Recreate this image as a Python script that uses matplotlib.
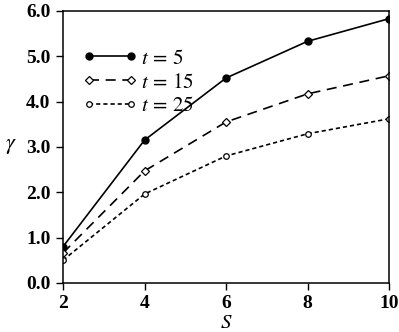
import numpy as np
import matplotlib.pyplot as plt

s = [2, 4, 6, 8, 10]
g_t5 = [0.80, 3.15, 4.52, 5.33, 5.83]
g_t15 = [0.66, 2.47, 3.55, 4.17, 4.57]
g_t25 = [0.50, 1.96, 2.80, 3.29, 3.62]

plt.rcParams['font.family'] = ['Liberation Serif', 'DejaVu Serif']
plt.rcParams['mathtext.fontset'] = 'stix'

fig = plt.figure(figsize=(3.99, 3.32), dpi=100)
ax = fig.add_axes([0.158, 0.148, 0.817, 0.819])

ax.plot(s, g_t5, '-', color='black', lw=1.2, marker='o', ms=5,
        mfc='black', label=r'$t\,=\,5$')
ax.plot(s, g_t15, '--', color='black', lw=1.2, dashes=(6, 4), marker='D', ms=4,
        mfc='white', mew=0.9, label=r'$t\,=\,15$')
ax.plot(s, g_t25, ':', color='black', lw=1.2, dashes=(2.5, 1.8), marker='o', ms=4,
        mfc='white', mew=0.9, label=r'$t\,=\,25$')

ax.set_xlim(2, 10)
ax.set_ylim(0, 6)
ax.set_xticks([2, 4, 6, 8, 10])
ax.set_yticks(np.arange(0, 6.1, 1.0))
ax.set_yticklabels(['%.1f' % v for v in np.arange(0, 6.1, 1.0)])
ax.tick_params(direction='out', length=5, width=1, top=False, right=False,
               labelsize=14, pad=4)
for lab in ax.get_xticklabels() + ax.get_yticklabels():
    lab.set_fontweight('bold')
for sp in ax.spines.values():
    sp.set_linewidth(1.1)

ax.set_xlabel(r'$S$', fontsize=15, labelpad=1)
fig.text(0.028, 0.56, r'$\gamma$', fontsize=16, ha='center', va='center')

leg = ax.legend(loc='upper left', bbox_to_anchor=(0.035, 0.89), frameon=False,
                numpoints=2, handlelength=2.6, handletextpad=0.2,
                labelspacing=0.2, fontsize=15, borderaxespad=0)

fig.savefig('out.png', dpi=100)
